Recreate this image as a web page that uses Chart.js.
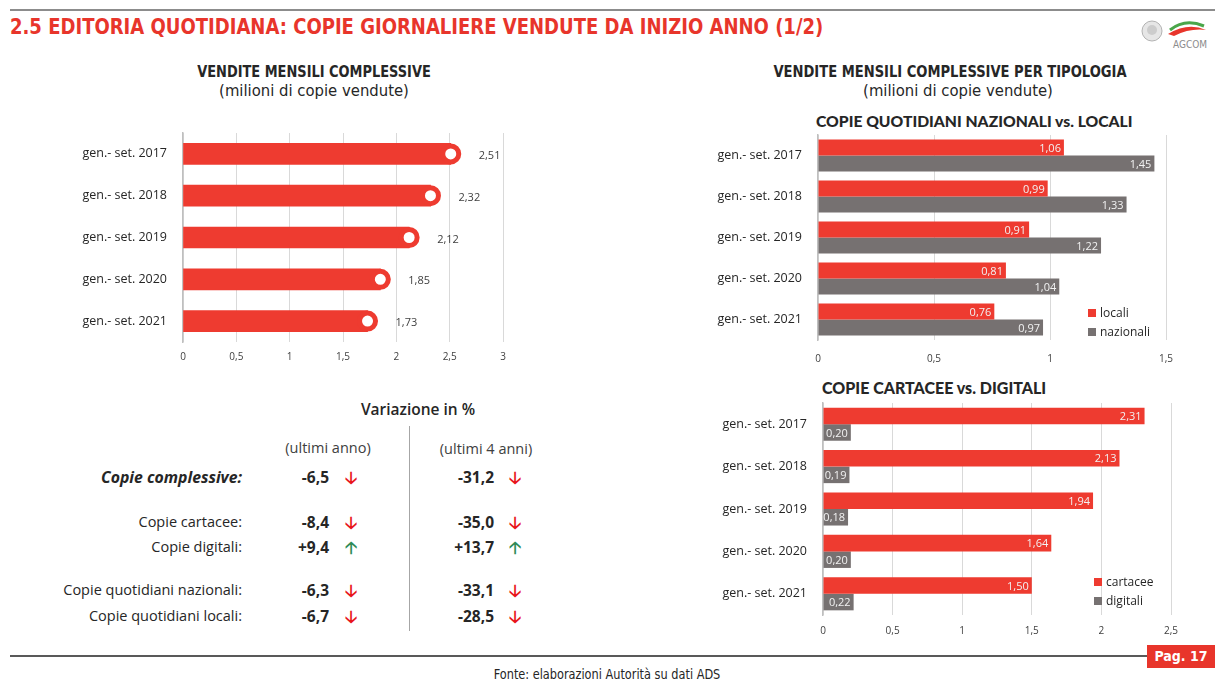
<!DOCTYPE html>
<html>
<head>
<meta charset="utf-8">
<script src="https://cdn.jsdelivr.net/npm/chart.js@4.4.1/dist/chart.umd.min.js"></script>
<style>
  body { margin:0; width:1227px; height:688px; background:#fff; position:relative; overflow:hidden; font-family:"Open Sans", sans-serif; color:#262626; }
  .abs { position:absolute; }
  .hdr { font-family:"DejaVu Sans Condensed","Liberation Sans Narrow",sans-serif; }
  .sq { transform-origin:center top; }
  canvas { position:absolute; }
  .leg { font-size:12px; color:#262626; }
  .leg span { display:inline-block; width:8px; height:8px; margin-right:4px; }
  .tbl { font-size:14.5px; line-height:18px; }
  .num { font-weight:bold; text-align:right; width:70px; font-size:15.5px; }
  .arr { font-family:"DejaVu Sans",sans-serif; font-weight:bold; font-size:17px; }
</style>
</head>
<body>
<div class="abs" style="left:10px;top:9px;width:1205px;height:2px;background:#8c8c8c"></div>
<div class="abs hdr" style="left:10px;top:14px;font-size:22px;font-weight:bold;color:#e8352b;transform:scaleX(0.91);transform-origin:left top;white-space:nowrap">2.5 EDITORIA QUOTIDIANA: COPIE GIORNALIERE VENDUTE DA INIZIO ANNO (1/2)</div>
<svg class="abs" style="left:1140px;top:18px" width="72" height="32" viewBox="0 0 72 32">
  <circle cx="12" cy="13" r="10" fill="#e6e6e6" stroke="#b3b3b3"/>
  <circle cx="12" cy="12" r="5" fill="#cccccc"/>
  <path d="M30 12 Q45 0 64 8" stroke="#4aa64a" stroke-width="3" fill="none"/>
  <path d="M28 16 Q48 4 66 12 Q50 10 34 18" fill="#e8352b"/>
  <text x="33" y="30" font-size="10" fill="#8c8c8c" font-family="DejaVu Sans Condensed">AGCOM</text>
</svg>

<div class="abs hdr sq" style="left:114px;top:62px;width:400px;text-align:center;font-size:16px;font-weight:bold;transform:scaleX(0.9)">VENDITE MENSILI COMPLESSIVE</div>
<div class="abs hdr" style="left:114px;top:81px;width:400px;text-align:center;font-size:16.5px">(milioni di copie vendute)</div>
<div class="abs hdr sq" style="left:750px;top:62px;width:400px;text-align:center;font-size:16px;font-weight:bold;transform:scaleX(0.91)">VENDITE MENSILI COMPLESSIVE PER TIPOLOGIA</div>
<div class="abs hdr" style="left:758px;top:81px;width:400px;text-align:center;font-size:16.5px">(milioni di copie vendute)</div>

<div class="abs" style="left:816px;top:112px;font-family:Lato,sans-serif;font-weight:900;font-size:15.7px;color:#262626">COPIE QUOTIDIANI NAZIONALI vs. LOCALI</div>
<div class="abs" style="left:822px;top:378px;font-family:Lato,sans-serif;font-weight:900;font-size:16px;color:#262626">COPIE CARTACEE vs. DIGITALI</div>

<canvas id="c1" width="480" height="242" style="left:60px;top:125px"></canvas>
<canvas id="c2" width="510" height="237" style="left:700px;top:128px"></canvas>
<canvas id="c3" width="510" height="244" style="left:700px;top:396px"></canvas>

<div class="abs leg" style="left:1088px;top:304px"><span style="background:#ee3b30"></span>locali</div>
<div class="abs leg" style="left:1088px;top:323px"><span style="background:#767171"></span>nazionali</div>
<div class="abs leg" style="left:1094px;top:573px"><span style="background:#ee3b30"></span>cartacee</div>
<div class="abs leg" style="left:1094px;top:592px"><span style="background:#767171"></span>digitali</div>

<div id="tbl"></div>

<div class="abs" style="left:10px;top:655px;width:1137px;height:2px;background:#595959"></div>
<div class="abs hdr" style="left:1147px;top:645px;width:68px;height:23px;background:#e8352b;color:#fff;font-weight:bold;font-size:14px;line-height:23px;text-align:center">Pag. 17</div>
<div class="abs hdr sq" style="left:357px;top:666px;width:500px;text-align:center;font-size:14px;color:#262626;transform:scaleX(0.9)">Fonte: elaborazioni Autorità su dati ADS</div>

<script>
const categories = ['gen.- set. 2017', 'gen.- set. 2018', 'gen.- set. 2019', 'gen.- set. 2020', 'gen.- set. 2021'];
const totali = [2.51, 2.32, 2.12, 1.85, 1.73];
const locali = [1.06, 0.99, 0.91, 0.81, 0.76];
const nazionali = [1.45, 1.33, 1.22, 1.04, 0.97];
const cartacee = [2.31, 2.13, 1.94, 1.64, 1.50];
const digitali = [0.20, 0.19, 0.18, 0.20, 0.22];

const varRows = ['Copie complessive:', 'Copie cartacee:', 'Copie digitali:', 'Copie quotidiani nazionali:', 'Copie quotidiani locali:'];
const varAnno = [-6.5, -8.4, 9.4, -6.3, -6.7];
const var4Anni = [-31.2, -35.0, 13.7, -33.1, -28.5];

const RED = '#ee3b30', GRAY = '#767171';

function fmt(v){ return v.toFixed(2).replace('.', ','); }
function fmtTick(v){ return String(v).replace('.', ','); }

// value labels drawn from bar elements
const labelPlugin = {
  id: 'vlabels',
  afterDatasetsDraw(chart, args, opts) {
    const ctx = chart.ctx;
    ctx.save();
    ctx.font = '11px "Open Sans"';
    ctx.textBaseline = 'middle';
    chart.data.datasets.forEach((ds, di) => {
      if (ds.type === 'line') return;
      const meta = chart.getDatasetMeta(di);
      meta.data.forEach((el, i) => {
        const txt = fmt(ds.data[i]);
        if (opts.outside) {
          ctx.fillStyle = '#404040';
          ctx.textAlign = 'left';
          ctx.fillText(txt, el.x + 28, el.y + 2);
        } else {
          ctx.fillStyle = '#f2f2f2';
          ctx.textAlign = 'right';
          ctx.fillText(txt, el.x - 3, el.y + 1);
        }
      });
    });
    ctx.restore();
  }
};

function yScale(w) {
  return {
    grid: { display: false },
    border: { display: true, color: '#bfbfbf', width: 1.5 },
    ticks: { color: '#262626', font: { family: 'Open Sans', size: 12.5 }, padding: 8 },
    afterFit(s) { s.width = w; s.paddingTop = 0; s.paddingBottom = 0; }
  };
}
function xScale(max, pad) {
  return {
    min: 0, max: max,
    ticks: { stepSize: 0.5, color: '#404040', font: { family: 'Open Sans', size: 10 }, padding: pad, callback: v => fmtTick(v) },
    grid: { color: '#d9d9d9', drawTicks: false },
    border: { display: false },
    afterFit(s) { s.height = 25; s.paddingLeft = 0; s.paddingRight = 0; }
  };
}

const baseOpts = {
  indexAxis: 'y',
  responsive: false,
  animation: false,
  plugins: { legend: { display: false }, tooltip: { enabled: false } }
};

// left chart
new Chart(document.getElementById('c1'), {
  type: 'bar',
  data: {
    labels: categories,
    datasets: [
      { data: totali, backgroundColor: RED, barThickness: 21, order: 2 },
      { type: 'line', indexAxis: 'y', data: totali, showLine: false, pointRadius: 8, pointBorderWidth: 5,
        pointBackgroundColor: '#fff', pointBorderColor: RED, order: 1, clip: false }
    ]
  },
  options: Object.assign({}, baseOpts, {
    layout: { autoPadding: false, padding: { top: 8, right: 37, left: 0, bottom: 0 } },
    plugins: Object.assign({}, baseOpts.plugins, { vlabels: { outside: true } }),
    scales: { y: yScale(123), x: xScale(3, 9) }
  }),
  plugins: [labelPlugin]
});

// nazionali vs locali
new Chart(document.getElementById('c2'), {
  type: 'bar',
  data: {
    labels: categories,
    datasets: [
      { label: 'locali', data: locali, backgroundColor: RED, categoryPercentage: 0.78, barPercentage: 1 },
      { label: 'nazionali', data: nazionali, backgroundColor: GRAY, categoryPercentage: 0.78, barPercentage: 1 }
    ]
  },
  options: Object.assign({}, baseOpts, {
    layout: { autoPadding: false, padding: { top: 7, right: 44, left: 0, bottom: 0 } },
    plugins: Object.assign({}, baseOpts.plugins, { vlabels: { outside: false } }),
    scales: { y: yScale(118), x: xScale(1.5, 13) }
  }),
  plugins: [labelPlugin]
});

// cartacee vs digitali
new Chart(document.getElementById('c3'), {
  type: 'bar',
  data: {
    labels: categories,
    datasets: [
      { label: 'cartacee', data: cartacee, backgroundColor: RED, categoryPercentage: 0.78, barPercentage: 1 },
      { label: 'digitali', data: digitali, backgroundColor: GRAY, categoryPercentage: 0.78, barPercentage: 1 }
    ]
  },
  options: Object.assign({}, baseOpts, {
    layout: { autoPadding: false, padding: { top: 7, right: 39, left: 0, bottom: 0 } },
    plugins: Object.assign({}, baseOpts.plugins, { vlabels: { outside: false } }),
    scales: { y: yScale(123), x: xScale(2.5, 10) }
  }),
  plugins: [labelPlugin]
});

// variation table
const rowY = [468, 513, 538, 581, 607];
let html = '';
html += '<div class="abs" style="left:318px;top:398px;width:200px;text-align:center;font-size:15.5px;font-weight:600;font-family:\'Open Sans\'">Variazione in %</div>';
html += '<div class="abs" style="left:409px;top:426px;width:1px;height:205px;background:#a6a6a6"></div>';
html += '<div class="abs tbl" style="left:248px;top:439px;width:160px;text-align:center;color:#404040">(ultimi anno)</div>';
html += '<div class="abs tbl" style="left:406px;top:440px;width:160px;text-align:center;color:#404040">(ultimi 4 anni)</div>';
function fv(v){ return (v > 0 ? '+' : '') + v.toFixed(1).replace('.', ','); }
function arrow(v){ return v > 0 ? '<span style="color:#2e8b57">&#129121;</span>' : '<span style="color:#e8151b">&#129123;</span>'; }
varRows.forEach((r, i) => {
  const y = rowY[i];
  const st = i === 0 ? 'font-weight:bold;font-style:italic;font-size:15.8px;' : '';
  html += '<div class="abs tbl" style="left:0px;top:' + y + 'px;width:242px;text-align:right;' + st + '">' + r + '</div>';
  html += '<div class="abs tbl num" style="left:259px;top:' + y + 'px">' + fv(varAnno[i]) + '</div>';
  html += '<div class="abs arr" style="left:345px;top:' + (y - 3) + 'px">' + arrow(varAnno[i]) + '</div>';
  html += '<div class="abs tbl num" style="left:424px;top:' + y + 'px">' + fv(var4Anni[i]) + '</div>';
  html += '<div class="abs arr" style="left:509px;top:' + (y - 3) + 'px">' + arrow(var4Anni[i]) + '</div>';
});
document.getElementById('tbl').innerHTML = html;
</script>
</body>
</html>
